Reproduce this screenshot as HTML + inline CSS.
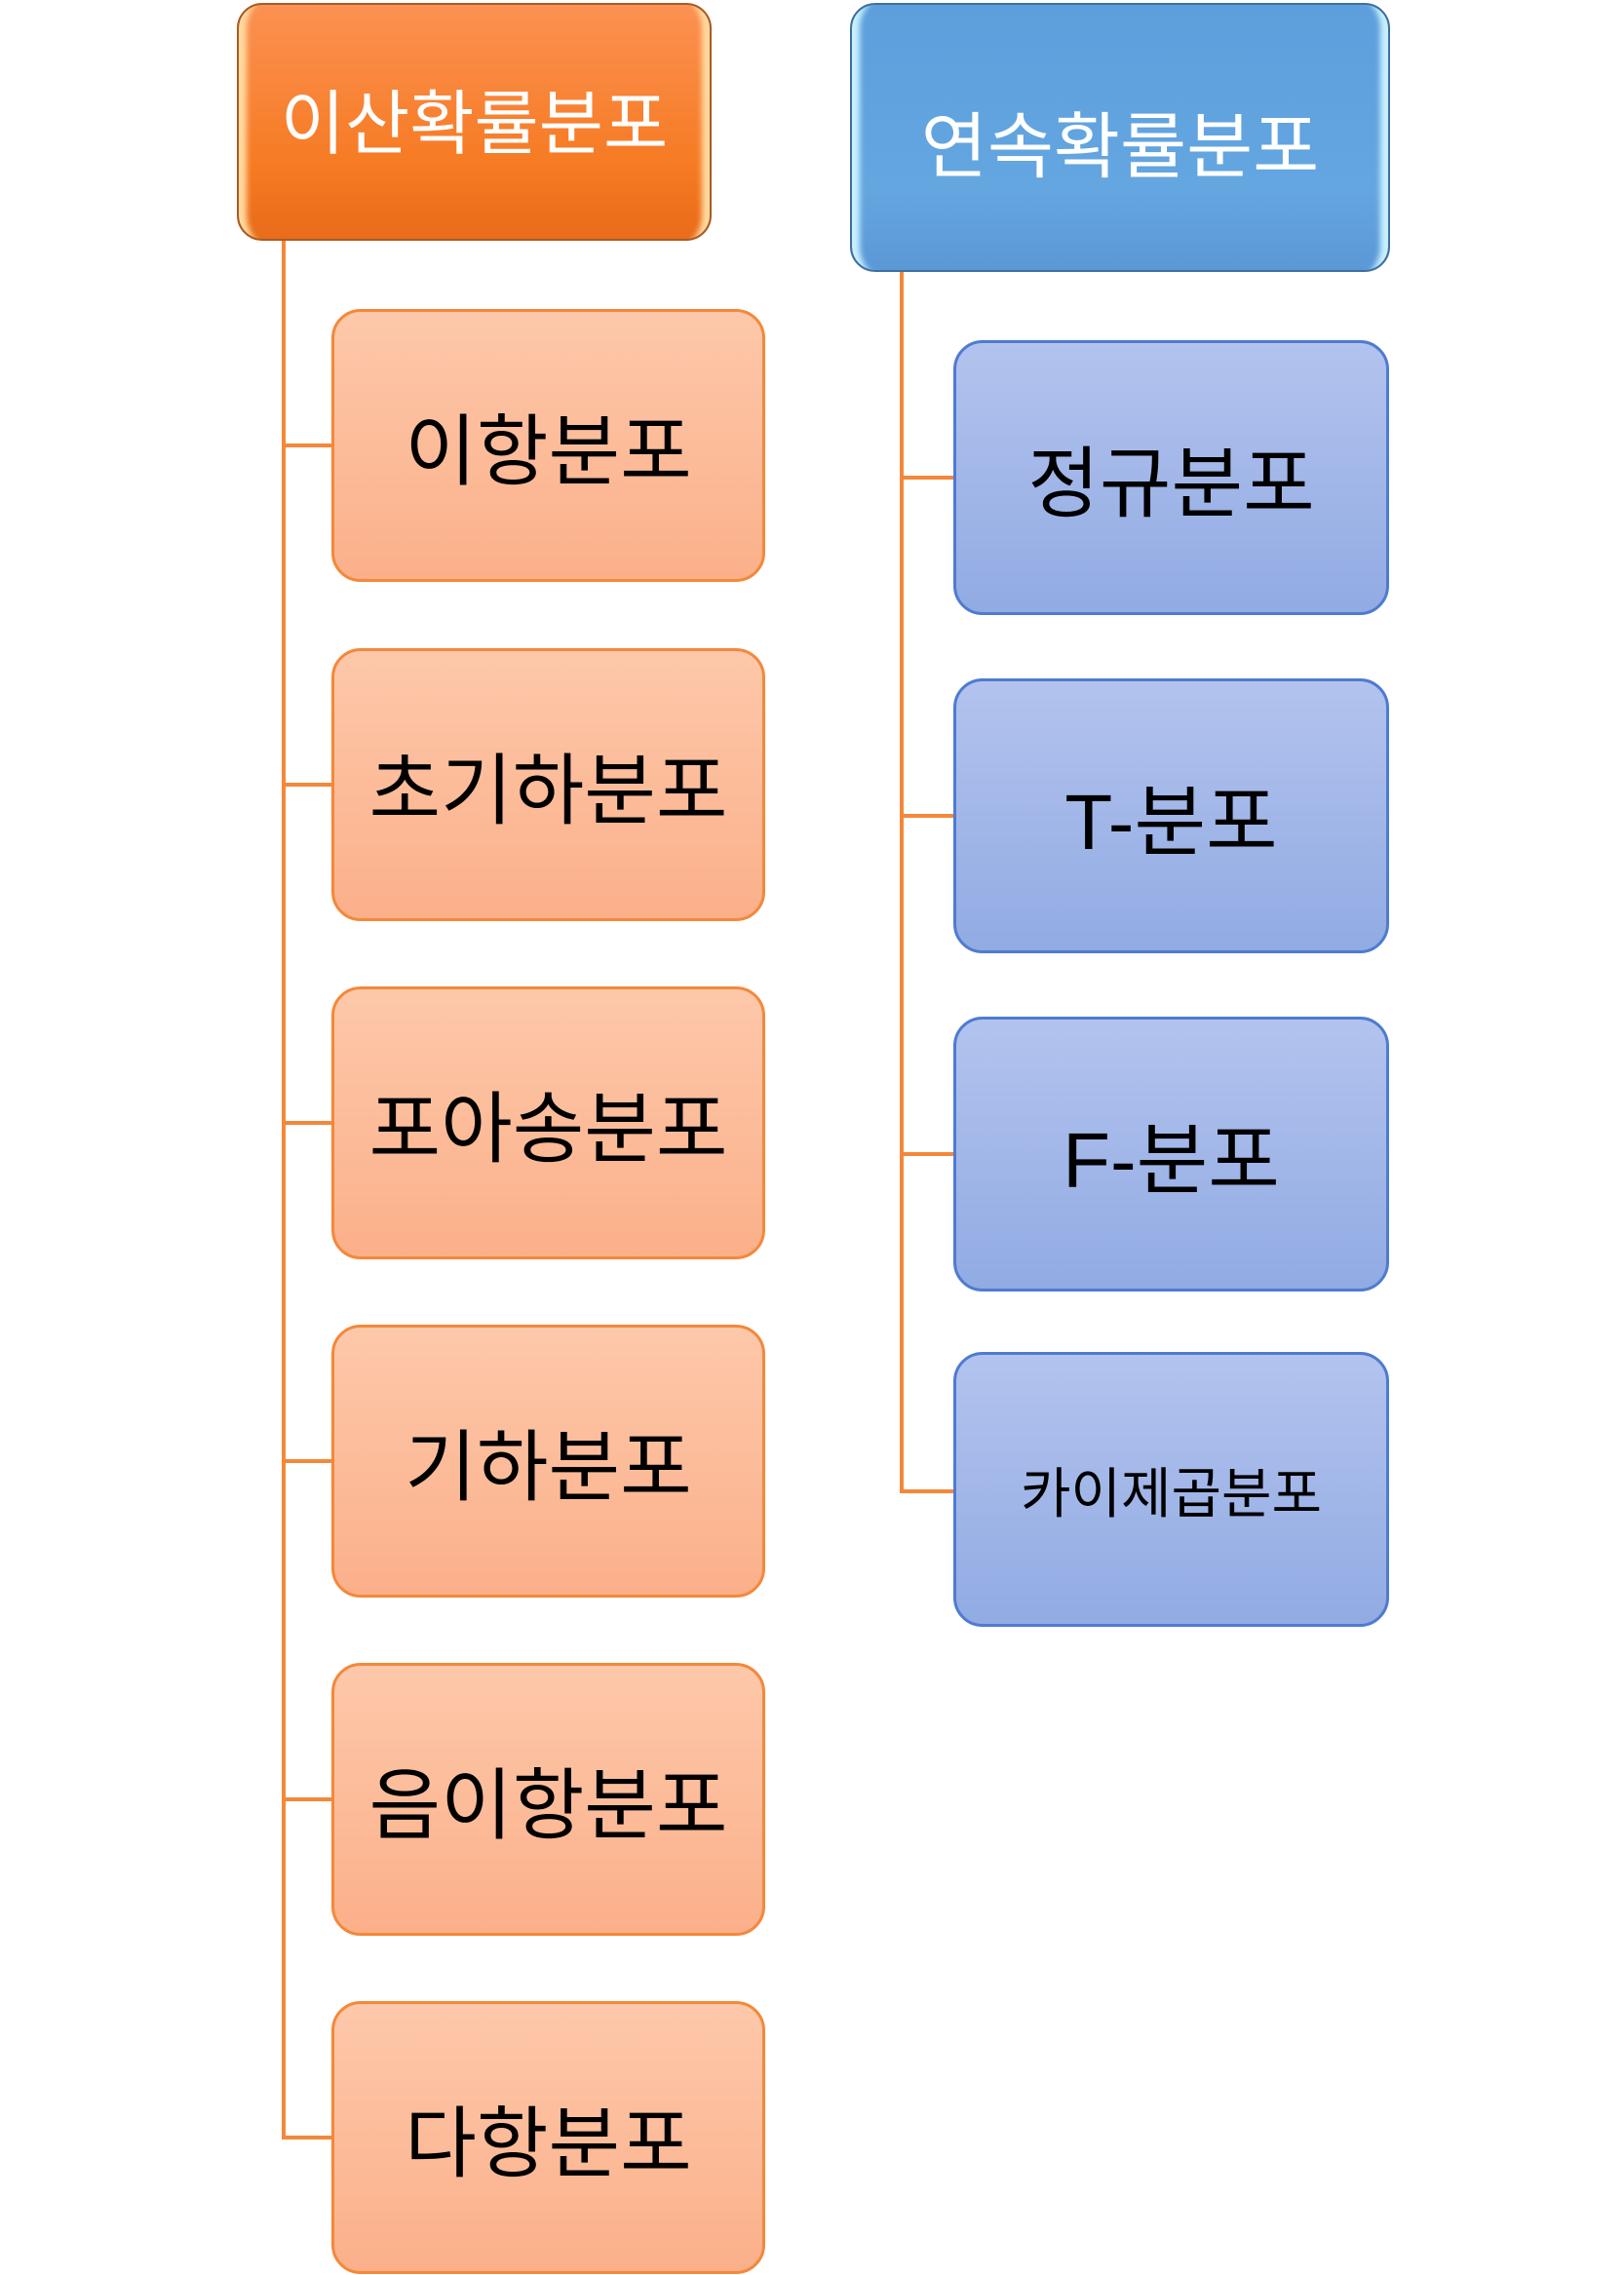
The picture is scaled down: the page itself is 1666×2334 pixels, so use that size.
<!DOCTYPE html>
<html><head><meta charset="utf-8"><style>
body{margin:0;width:1666px;height:2334px;background:#fff;position:relative;overflow:hidden;font-family:"Liberation Sans","Noto Sans CJK KR",sans-serif}
.b{position:absolute;box-sizing:border-box;display:flex;align-items:center;justify-content:center;white-space:nowrap}
.o{left:340px;width:445px;height:280px;border:3.5px solid #f4883a;border-radius:30px;background:linear-gradient(#fdc8aa,#fbb08a);font-size:80px;color:#000}
.c{left:978px;width:447px;height:282px;border:3.5px solid #4f7bd0;border-radius:30px;background:linear-gradient(#b3c3ee,#91abe3);font-size:80px;color:#000}
.h{color:#fff;border-radius:26px;font-size:72px}
.l{position:absolute;background:#f4883a}
</style></head><body>
<div class="l" style="left:289px;top:247px;width:4px;height:1947px"></div>
<div class="l" style="left:923px;top:279px;width:4px;height:1252px"></div>
<div class="l" style="left:289px;top:455px;width:52px;height:4px"></div>
<div class="l" style="left:289px;top:803px;width:52px;height:4px"></div>
<div class="l" style="left:289px;top:1150px;width:52px;height:4px"></div>
<div class="l" style="left:289px;top:1497px;width:52px;height:4px"></div>
<div class="l" style="left:289px;top:1844px;width:52px;height:4px"></div>
<div class="l" style="left:289px;top:2191px;width:52px;height:4px"></div>
<div class="l" style="left:923px;top:488px;width:56px;height:4px"></div>
<div class="l" style="left:923px;top:835px;width:56px;height:4px"></div>
<div class="l" style="left:923px;top:1182px;width:56px;height:4px"></div>
<div class="l" style="left:923px;top:1528px;width:56px;height:4px"></div>

<div class="b h" style="left:243px;top:3px;width:487px;height:244px;background:linear-gradient(#fb9152,#f67a22 70%,#e86c1a);border:2px solid #a85a24;box-shadow:inset 22px 0 6px -14px #ffd9a0,inset -22px 0 6px -14px #ffd9a0;padding-bottom:10px">이산확률분포</div>
<div class="b h" style="left:872px;top:3px;width:554px;height:276px;background:linear-gradient(#5d9fdc,#64a6e0 70%,#5b98d6);border:2px solid #3f6f9e;box-shadow:inset 22px 0 6px -14px #c8f0ff,inset -22px 0 6px -14px #c8f0ff;font-size:74px;padding-top:6px">연속확률분포</div>

<div class="b o" style="top:317px">이항분포</div>
<div class="b o" style="top:665px">초기하분포</div>
<div class="b o" style="top:1012px">포아송분포</div>
<div class="b o" style="top:1359px">기하분포</div>
<div class="b o" style="top:1706px">음이항분포</div>
<div class="b o" style="top:2053px">다항분포</div>

<div class="b c" style="top:349px">정규분포</div>
<div class="b c" style="top:696px">T-분포</div>
<div class="b c" style="top:1043px">F-분포</div>
<div class="b c" style="top:1387px;font-size:56px">카이제곱분포</div>
</body></html>
